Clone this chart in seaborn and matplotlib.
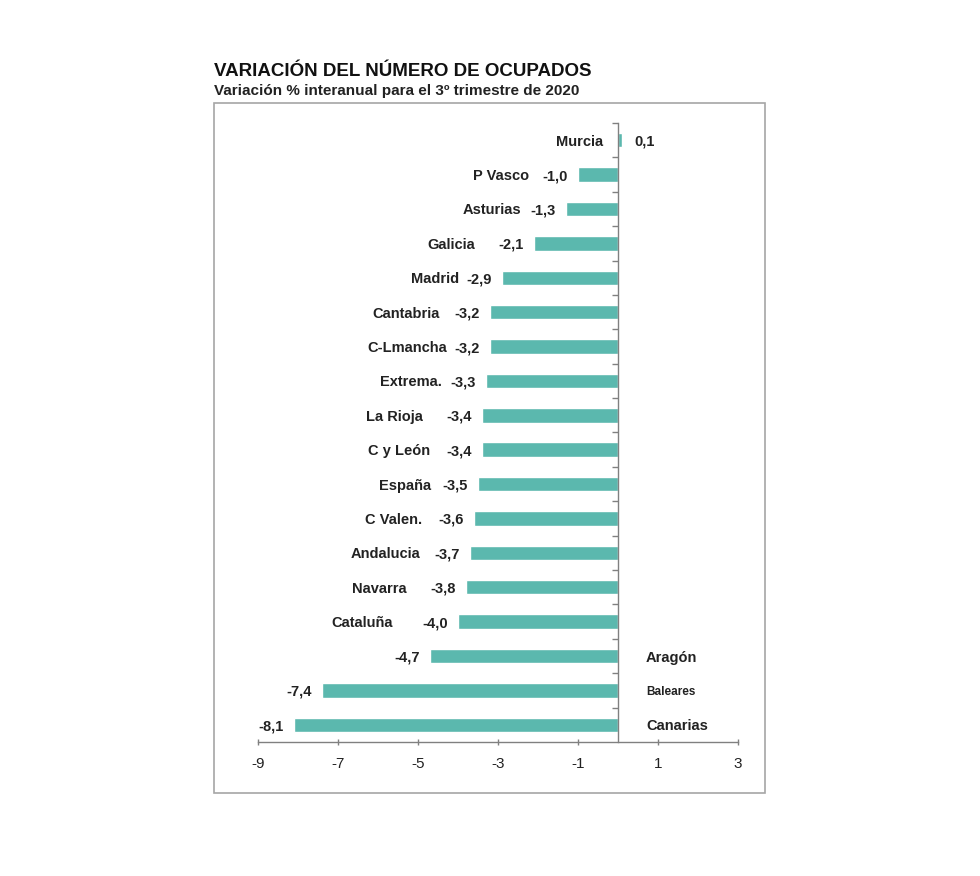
import numpy as np
import pandas as pd
import seaborn as sns
import matplotlib.pyplot as plt
from matplotlib.patches import Rectangle

# Data
regions = ['Murcia', 'P Vasco', 'Asturias', 'Galicia', 'Madrid', 'Cantabria',
           'C-Lmancha', 'Extrema.', 'La Rioja', 'C y León', 'España', 'C Valen.',
           'Andalucia', 'Navarra', 'Cataluña', 'Aragón', 'Baleares', 'Canarias']
values = [0.1, -1.0, -1.3, -2.1, -2.9, -3.2, -3.2, -3.3, -3.4, -3.4, -3.5, -3.6,
          -3.7, -3.8, -4.0, -4.7, -7.4, -8.1]
right_side = ['Aragón', 'Baleares', 'Canarias']
xticks = [-9, -7, -5, -3, -1, 1, 3]

title = 'VARIACIÓN DEL NÚMERO DE OCUPADOS'
subtitle = 'Variación % interanual para el 3º trimestre de 2020'

# label placement (px between bar end and region name, as in the original)
name_gap_px = {'P Vasco': 49, 'Asturias': 45, 'Galicia': 59, 'Madrid': 43,
               'Cantabria': 50, 'C-Lmancha': 43, 'Extrema.': 44, 'La Rioja': 59,
               'C y León': 52, 'España': 47, 'C Valen.': 52, 'Andalucia': 50,
               'Navarra': 59, 'Cataluña': 65}

df = pd.DataFrame({'region': regions, 'value': values})

sns.set_theme(style='white')
plt.rcParams['font.family'] = ['Liberation Sans Narrow', 'Liberation Sans', 'DejaVu Sans']

fig = plt.figure(figsize=(9.8, 8.76), dpi=100)
ax = fig.add_axes([0.2633, 0.1530, 0.4898, 0.7066])

sns.barplot(data=df, x='value', y='region', orient='h', color='#5BB8AE',
            width=0.42, saturation=1, ax=ax)

ax.set_xlim(-9, 3)
ax.set_ylim(len(regions) - 0.5, -0.5)
ax.set_xticks(xticks)
ax.set_xticklabels([str(t) for t in xticks], fontsize=11)
ax.set_xlabel('')
ax.set_ylabel('')

# y axis sits at zero, ticks between categories
ax.spines['top'].set_visible(False)
ax.spines['right'].set_visible(False)
ax.spines['left'].set_position(('data', 0))
for s in ['left', 'bottom']:
    ax.spines[s].set_color('#808080')
    ax.spines[s].set_linewidth(1.0)
ax.set_yticks(np.arange(-0.5, len(regions) - 0.5, 1.0))
ax.set_yticklabels([])
ax.tick_params(axis='y', length=4, width=1, color='#808080', direction='out', left=True)
ax.tick_params(axis='x', length=5, width=1, color='#808080', direction='inout',
               bottom=True, pad=8, labelcolor='#222222')

px = 72 / 100  # points per pixel
fs = 10.5
for i, (name, v) in enumerate(zip(regions, values)):
    txt = f'{v:.1f}'.replace('.', ',')
    kw = dict(textcoords='offset points', va='center_baseline', fontweight='bold',
              color='#222222')
    if v >= 0:
        ax.annotate(txt, (v, i), xytext=(12 * px, 0), ha='left', fontsize=fs, **kw)
        ax.annotate(name, (0, i), xytext=(-15 * px, 0), ha='right', fontsize=fs, **kw)
    else:
        ax.annotate(txt, (v, i), xytext=(-10 * px, 0), ha='right', fontsize=fs, **kw)
        if name in right_side:
            size = 8.5 if name == 'Baleares' else fs
            ax.annotate(name, (0, i), xytext=(28 * px, 0), ha='left', fontsize=size, **kw)
        else:
            ax.annotate(name, (v, i), xytext=(-name_gap_px[name] * px, 0), ha='right',
                        fontsize=fs, **kw)

# chart border
fig.patches.append(Rectangle((0.2184, 0.0947), 0.5622, 0.7877, transform=fig.transFigure,
                             fill=False, edgecolor='#A6A6A6', linewidth=1.2))

fig.text(0.2184, 0.913, title, fontsize=13.5, fontweight='bold', color='#111111',
         family=['Liberation Sans', 'DejaVu Sans'], va='baseline')
fig.text(0.2184, 0.891, subtitle, fontsize=11, fontweight='bold', color='#222222',
         family=['Liberation Sans', 'DejaVu Sans'], va='baseline')

fig.savefig('out.png', dpi=100)
